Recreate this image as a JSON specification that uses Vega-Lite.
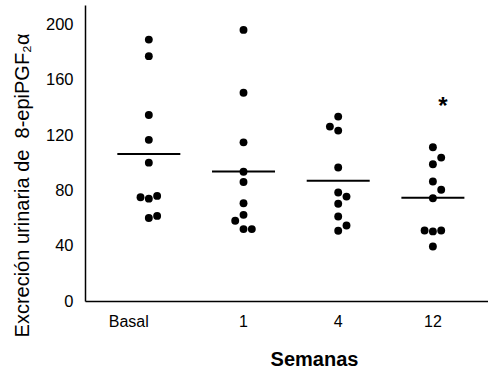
{
  "$schema": "https://vega.github.io/schema/vega-lite/v6.json",
  "width": 403,
  "height": 296,
  "autosize": "none",
  "padding": {"left": 85, "top": 5, "right": 0, "bottom": 71},
  "background": "white",
  "config": {
    "font": "Liberation Sans",
    "view": {"stroke": null},
    "axis": {"grid": false, "ticks": false, "domainColor": "black", "domainWidth": 1.5, "labelColor": "black", "titleColor": "black", "labelFont": "Liberation Sans", "titleFont": "Liberation Sans"}
  },
  "datasets": {
    "puntos": [
      {"semana": "Basal", "excrecion": 189, "columna": 0},
      {"semana": "Basal", "excrecion": 177, "columna": 0},
      {"semana": "Basal", "excrecion": 134.5, "columna": 0},
      {"semana": "Basal", "excrecion": 116.5, "columna": 0},
      {"semana": "Basal", "excrecion": 100, "columna": 0},
      {"semana": "Basal", "excrecion": 75, "columna": -1},
      {"semana": "Basal", "excrecion": 74, "columna": 0},
      {"semana": "Basal", "excrecion": 76, "columna": 1},
      {"semana": "Basal", "excrecion": 60, "columna": 0},
      {"semana": "Basal", "excrecion": 61.5, "columna": 1},
      {"semana": "1", "excrecion": 196, "columna": 0},
      {"semana": "1", "excrecion": 150.6, "columna": 0},
      {"semana": "1", "excrecion": 114.7, "columna": 0},
      {"semana": "1", "excrecion": 93.4, "columna": 0},
      {"semana": "1", "excrecion": 86, "columna": 0},
      {"semana": "1", "excrecion": 70.7, "columna": 0},
      {"semana": "1", "excrecion": 62.3, "columna": 0},
      {"semana": "1", "excrecion": 58, "columna": -1},
      {"semana": "1", "excrecion": 52, "columna": 0},
      {"semana": "1", "excrecion": 52, "columna": 1},
      {"semana": "4", "excrecion": 133.3, "columna": 0},
      {"semana": "4", "excrecion": 126.1, "columna": -1},
      {"semana": "4", "excrecion": 123.2, "columna": 0},
      {"semana": "4", "excrecion": 96.5, "columna": 0},
      {"semana": "4", "excrecion": 78.4, "columna": 0},
      {"semana": "4", "excrecion": 75.5, "columna": 1},
      {"semana": "4", "excrecion": 70.3, "columna": 0},
      {"semana": "4", "excrecion": 61.1, "columna": 0},
      {"semana": "4", "excrecion": 54.6, "columna": 1},
      {"semana": "4", "excrecion": 50.8, "columna": 0},
      {"semana": "12", "excrecion": 111.2, "columna": 0},
      {"semana": "12", "excrecion": 103.7, "columna": 1},
      {"semana": "12", "excrecion": 98.9, "columna": 0},
      {"semana": "12", "excrecion": 86.4, "columna": 0},
      {"semana": "12", "excrecion": 80.4, "columna": 1},
      {"semana": "12", "excrecion": 74.3, "columna": 0},
      {"semana": "12", "excrecion": 51, "columna": -1},
      {"semana": "12", "excrecion": 50.3, "columna": 0},
      {"semana": "12", "excrecion": 51, "columna": 1},
      {"semana": "12", "excrecion": 39.4, "columna": 0}
    ],
    "signif": [
      {"semana": "12", "excrecion": 140, "marca": "*"}
    ]
  },
  "encoding": {
    "x": {
      "field": "semana",
      "type": "nominal",
      "sort": ["Basal", "1", "4", "12"],
      "scale": {"type": "band", "domain": ["Basal", "1", "4", "12"], "paddingInner": 0, "paddingOuter": 0.128, "align": 0.68},
      "axis": {
        "title": "Semanas",
        "titleFontSize": 20,
        "titleFontWeight": "bold",
        "titleX": 229,
        "titleY": 64,
        "titleAlign": "center",
        "titleBaseline": "alphabetic",
        "labelAngle": 0,
        "labelFontSize": 16,
        "labelPadding": 12,
        "labelAlign": {"condition": {"test": "datum.value == 'Basal'", "value": "right"}, "value": "center"}
      }
    },
    "y": {
      "field": "excrecion",
      "type": "quantitative",
      "scale": {"domain": [0, 214], "nice": false, "zero": true},
      "axis": {
        "title": "Excreción urinaria de \u00a08-epiPGF₂α",
        "titleFontSize": 20,
        "titleFontWeight": "normal",
        "titleX": -57,
        "titleY": 180,
        "titleAngle": -90,
        "titleAlign": "center",
        "titleBaseline": "alphabetic",
        "values": [0, 40, 80, 120, 160, 200],
        "labelFontSize": 16.5,
        "labelPadding": 12
      }
    }
  },
  "layer": [
    {
      "data": {"name": "puntos"},
      "mark": {"type": "point", "filled": true, "shape": "circle", "color": "black", "opacity": 1, "size": 62},
      "encoding": {
        "xOffset": {"field": "columna", "type": "quantitative", "scale": {"domain": [-5.7, 5.7]}}
      }
    },
    {
      "data": {"name": "puntos"},
      "mark": {"type": "tick", "color": "black", "size": 63, "thickness": 2, "opacity": 1},
      "encoding": {
        "y": {"aggregate": "mean", "field": "excrecion", "type": "quantitative"}
      }
    },
    {
      "data": {"name": "signif"},
      "mark": {"type": "text", "fontSize": 24, "fontWeight": "bold", "color": "black", "dx": 10, "baseline": "middle"},
      "encoding": {
        "text": {"field": "marca"}
      }
    }
  ]
}
